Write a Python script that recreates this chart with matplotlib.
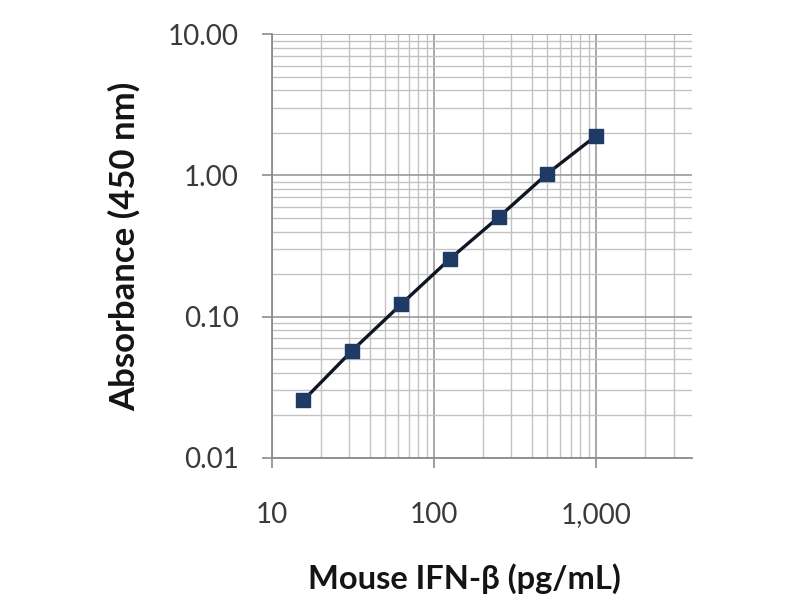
import numpy as np
import matplotlib
matplotlib.use('Agg')
import matplotlib.pyplot as plt
from matplotlib.ticker import FixedLocator, LogLocator, NullFormatter

#==============================================================================
# Data
#==============================================================================
conc = [15.6, 31.25, 62.5, 125, 250, 500, 1000]          # pg/mL
absorb = [0.0255, 0.0575, 0.122, 0.256, 0.505, 1.03, 1.91]  # OD 450 nm

xticks = [10, 100, 1000]
xticklabels = ['10', '100', '1,000']
yticks = [0.01, 0.1, 1, 10]
yticklabels = ['0.01', '0.10', '1.00', '10.00']

plt.rcParams['font.family'] = ['Lato', 'Open Sans', 'DejaVu Sans']

#==============================================================================
# Plot
#==============================================================================
fig = plt.figure(figsize=(8, 6), dpi=100)
ax = fig.add_axes([0.34, 0.237, 0.525, 0.706])

ax.set_xscale('log')
ax.set_yscale('log')
ax.set_xlim(10, 3900)
ax.set_ylim(0.01, 10)

ax.plot(conc, absorb, color='#101522', lw=2.4, marker='s', markersize=10.5,
        markerfacecolor='#1f3a64', markeredgecolor='#1f3a64', zorder=3)

ax.xaxis.set_major_locator(FixedLocator(xticks))
ax.yaxis.set_major_locator(FixedLocator(yticks))
ax.xaxis.set_minor_locator(LogLocator(base=10, subs=np.arange(2, 10), numticks=20))
ax.yaxis.set_minor_locator(LogLocator(base=10, subs=np.arange(2, 10), numticks=20))
ax.xaxis.set_minor_formatter(NullFormatter())
ax.yaxis.set_minor_formatter(NullFormatter())
ax.set_xticklabels(xticklabels)
ax.set_yticklabels(yticklabels)

ax.grid(which='major', color='#9a9a9a', lw=1.2)
ax.grid(which='minor', color='#c2c2c2', lw=1.0)
ax.set_axisbelow(True)

ax.tick_params(which='major', length=7, width=1.2, color='#8c8c8c',
               labelsize=20, labelcolor='#3a3a3a')
ax.tick_params(axis='x', which='major', pad=25)
ax.tick_params(axis='y', which='major', pad=17)
ax.tick_params(which='minor', length=0)

for side in ['left', 'bottom']:
    ax.spines[side].set_color('#8c8c8c')
    ax.spines[side].set_linewidth(1.3)
for side in ['top', 'right']:
    ax.spines[side].set_visible(False)

ax.set_xlabel('Mouse IFN-β (pg/mL)', fontsize=23.5, fontweight='bold',
              color='#141414')
ax.set_ylabel('Absorbance (450 nm)', fontsize=25, fontweight='bold',
              color='#141414')
# label centres as in the original layout
ax.xaxis.set_label_coords(0.457, -0.25)
ax.yaxis.set_label_coords(-0.313, 0.5)

plt.savefig('out.png', dpi=100)
